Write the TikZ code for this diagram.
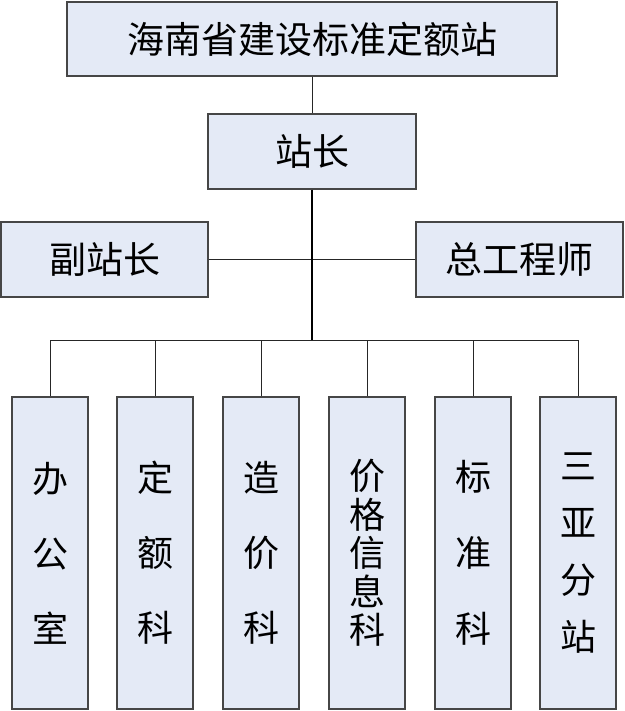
\documentclass[tikz,border=0pt]{standalone}
\usepackage{fontspec}
\setmainfont{Noto Sans CJK SC}
\usepackage{tikz}
\usetikzlibrary{positioning, calc}
\definecolor{boxfill}{RGB}{228,234,246}
\definecolor{boxline}{RGB}{70,70,70}

\begin{document}
\begin{tikzpicture}[x=1pt, y=-1pt,
  box/.style={rectangle, draw=boxline, line width=1.2pt, fill=boxfill, inner sep=0pt, font=\fontsize{37}{42}\selectfont},
  dept/.style={box, minimum width=76pt, minimum height=312pt, align=center},
  link/.style={line width=1pt, draw=black!85}
]
\useasboundingbox (0,0) rectangle (624,711);
\node[box, minimum width=490pt, minimum height=74pt] (head) at (312,39) {海南省建设标准定额站};
\node[box, minimum width=208pt, minimum height=75pt] (chief) at (312,151.5) {站长};
\node[box, minimum width=207pt, minimum height=75pt] (deputy) at (104.5,259.5) {副站长};
\node[box, minimum width=207pt, minimum height=75pt] (engineer) at (519.5,259.5) {总工程师};
\coordinate (bus) at (312,340);
\draw[link] (head) -- (chief);
\draw[link] (deputy) -- (engineer);
\draw[line width=2.5pt] (chief.south) -- (bus);
% Departments
\foreach \name/\xc/\txt/\sk in {office/50/{办\\公\\室}/75, quota/155/{定\\额\\科}/75,
    cost/261/{造\\价\\科}/75, price/367/{价\\格\\信\\息\\科}/38.5,
    standard/473/{标\\准\\科}/76, sanya/578/{三\\亚\\分\\站}/57}
{
  \node[dept, font=\fontsize{36}{\sk}\selectfont] (\name) at (\xc,553) {\txt};
  \draw[link] (\name.north) -- (\name.north |- bus);
}
\draw[link] (office.north |- bus) -- (sanya.north |- bus);
\end{tikzpicture}
\end{document}
